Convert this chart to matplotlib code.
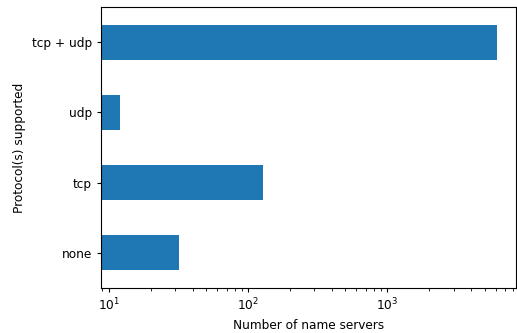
import matplotlib
matplotlib.use("Agg")
import matplotlib.pyplot as plt
import numpy as np

# name server counts per supported transport protocol
protocols = ["none", "tcp", "udp", "tcp + udp"]
servers = [32, 129, 12, 6150]

plt.rcParams["font.size"] = 8.7
plt.rcParams["xtick.major.size"] = 3.1
plt.rcParams["ytick.major.size"] = 3.1
plt.rcParams["xtick.minor.size"] = 1.8

fig, ax = plt.subplots(figsize=(5.17, 3.33), dpi=100)
pos = np.arange(len(protocols))
ax.barh(pos, servers, height=0.5, color="#1f77b4")
ax.set_xscale("log")
ax.set_ylim(-0.5, len(protocols) - 0.5)
ax.set_yticks(pos)
ax.set_yticklabels(protocols)
ax.set_xlabel("Number of name servers")
ax.set_ylabel("Protocol(s) supported")

fig.subplots_adjust(left=101 / 517, right=516 / 517, top=1 - 7 / 333, bottom=1 - 288 / 333)
fig.savefig("out.png", dpi=100)
